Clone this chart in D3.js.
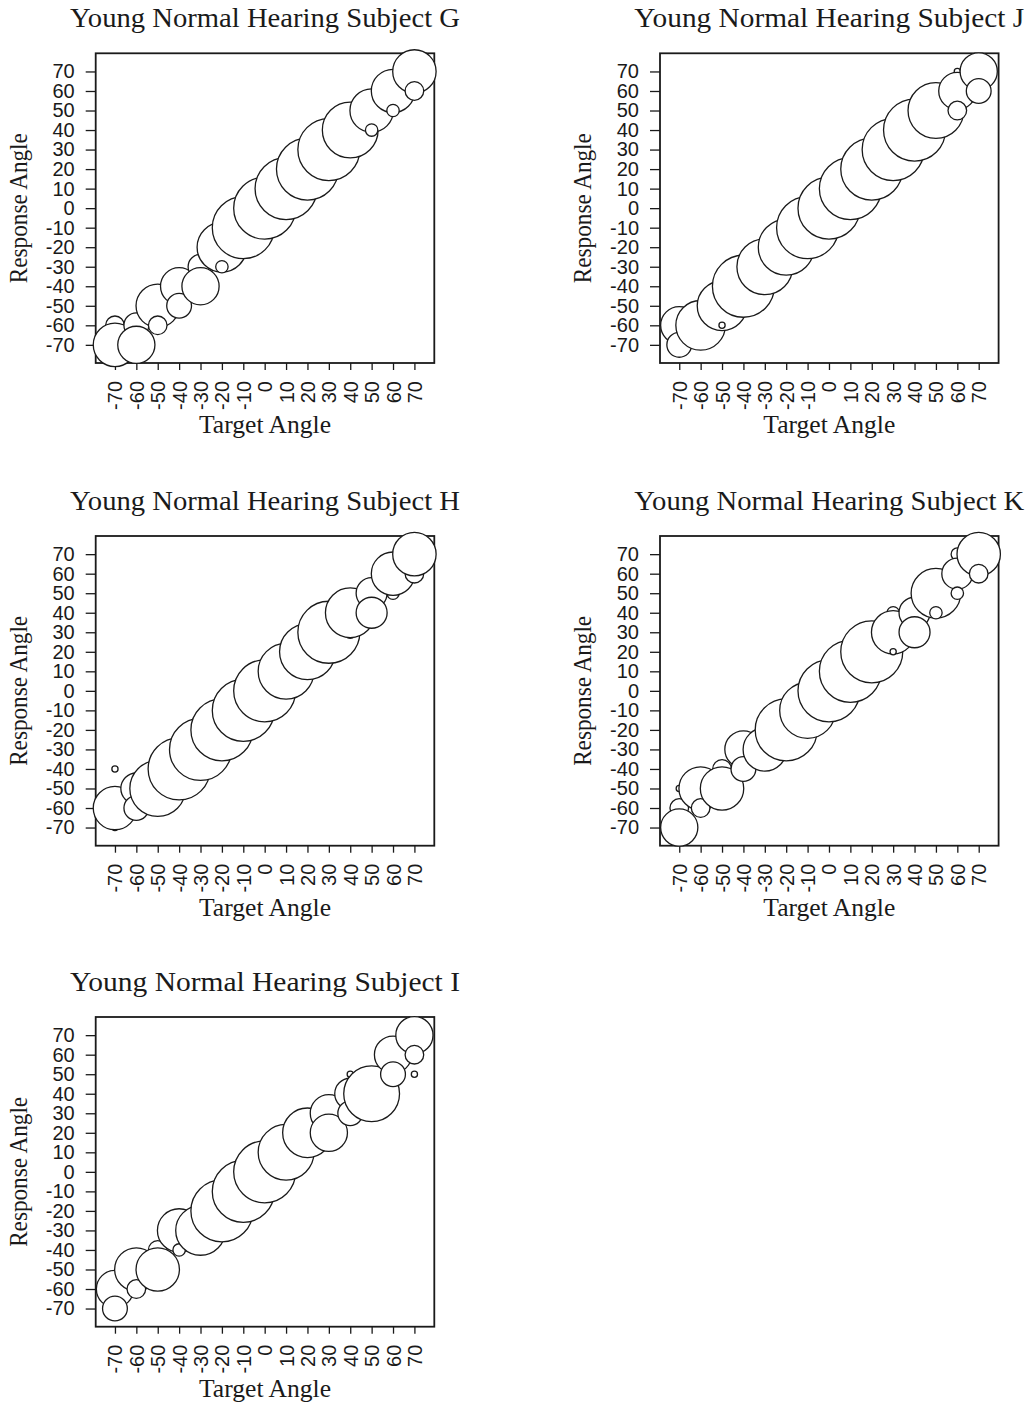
<!DOCTYPE html>
<html><head><meta charset="utf-8">
<script src="https://cdn.jsdelivr.net/npm/d3@7"></script>
<style>body{margin:0;background:#fff}svg{display:block}</style>
</head><body>
<svg id="chart" width="1030" height="1402"></svg>
<script>
// ---- data ----
const tickValues = [-70,-60,-50,-40,-30,-20,-10,0,10,20,30,40,50,60,70];
const panelIds = ["G","J","H","K","I"];
const panelTitles = ["Young Normal Hearing Subject G","Young Normal Hearing Subject J","Young Normal Hearing Subject H","Young Normal Hearing Subject K","Young Normal Hearing Subject I"];
const xAxisTitle = "Target Angle";
const yAxisTitle = "Response Angle";
// [target angle, response angle, number of responses] (listed in drawing order)
const subjectG = [
  [-70,-60,3],[-70,-70,7],
  [-60,-60,4],[-60,-70,6],
  [-50,-50,7],[-50,-60,3],
  [-40,-40,6],[-40,-50,4],
  [-30,-30,4],[-30,-40,6],
  [-20,-20,8],[-20,-30,2],
  [-10,-10,10],[0,0,10],[10,10,10],[20,20,10],[30,30,10],
  [40,40,9],
  [50,50,7],[50,40,2],
  [60,60,7],[60,50,2],
  [70,70,7],[70,60,3]
];
const subjectJ = [
  [-70,-60,6],[-70,-70,4],
  [-60,-60,8],
  [-50,-50,8],[-50,-60,1],
  [-40,-40,10],[-30,-30,9],[-20,-20,9],[-10,-10,10],[0,0,10],[10,10,10],[20,20,10],[30,30,10],[40,40,10],
  [50,50,9],
  [60,70,1],[60,60,6],[60,50,3],
  [70,70,6],[70,60,4]
];
const subjectH = [
  [-70,-40,1],[-70,-70,1],[-70,-60,7],
  [-60,-50,5],[-60,-60,4],
  [-50,-50,9],
  [-40,-40,10],[-30,-30,10],[-20,-20,10],[-10,-10,10],[0,0,10],
  [10,10,9],[20,20,9],[30,30,10],
  [40,30,2],[40,40,8],
  [50,50,5],[50,40,5],
  [60,50,2],[60,60,7],
  [70,60,3],[70,70,7]
];
const subjectK = [
  [-70,-50,1],[-70,-60,3],[-70,-70,6],
  [-60,-50,7],[-60,-60,3],
  [-50,-40,3],[-50,-50,7],
  [-40,-30,6],[-40,-40,4],
  [-30,-30,7],
  [-20,-20,10],[-10,-10,9],[0,0,10],[10,10,10],[20,20,10],
  [30,40,2],[30,30,7],[30,20,1],
  [40,40,5],[40,30,5],
  [50,50,8],[50,40,2],
  [60,70,2],[60,60,5],[60,50,2],
  [70,70,7],[70,60,3]
];
const subjectI = [
  [-70,-60,6],[-70,-70,4],
  [-60,-50,7],[-60,-60,3],
  [-50,-40,3],[-50,-50,7],
  [-40,-30,7],[-40,-40,2],
  [-30,-30,8],
  [-20,-20,10],[-10,-10,10],[0,0,10],
  [10,10,9],[20,20,8],
  [30,30,6],[30,20,6],
  [40,50,1],[40,40,5],[40,30,4],
  [50,40,9],
  [60,60,6],[60,50,4],
  [70,70,6],[70,60,3],[70,50,1]
];
const panelData = [subjectG, subjectJ, subjectH, subjectK, subjectI];

// ---- layout ----
const frames = [
  {left:95.7, top:53.3},
  {left:660,  top:53.3},
  {left:95.7, top:536},
  {left:660,  top:536},
  {left:95.7, top:1017}
];
const fw = 338.6, fh = 309.7;
const ink = "#1a1a1a";

const svg = d3.select("#chart");
svg.append("rect").attr("width",1030).attr("height",1402).attr("fill","#fff");

const rScale = d3.scaleLinear().domain([0,10]).range([0,31]);
const fmt = d => String(d);

panelIds.forEach((id, i) => {
  const f = frames[i];
  const x = d3.scaleLinear().domain([-79, 79.3]).range([f.left, f.left + fw]);
  const y = d3.scaleLinear().domain([-79.3, 79.3]).range([f.top + fh, f.top]);
  const g = svg.append("g").attr("class","panel-"+id);

  // frame
  g.append("rect").attr("x",f.left).attr("y",f.top).attr("width",fw).attr("height",fh)
    .attr("fill","none").attr("stroke",ink).attr("stroke-width",1.8);

  // y axis
  const ya = g.append("g").attr("transform",`translate(${f.left},0)`)
    .call(d3.axisLeft(y).tickValues(tickValues).tickSize(10).tickPadding(11).tickFormat(fmt));
  ya.select(".domain").remove();
  ya.selectAll("line").attr("stroke",ink).attr("stroke-width",1.3);
  ya.selectAll("text").attr("font-family","'Liberation Sans', Arial, sans-serif")
    .attr("font-size",20).attr("fill",ink);

  // x axis
  const xa = g.append("g").attr("transform",`translate(0,${f.top+fh})`)
    .call(d3.axisBottom(x).tickValues(tickValues).tickSize(7).tickFormat(fmt));
  xa.select(".domain").remove();
  xa.selectAll("line").attr("stroke",ink).attr("stroke-width",1.3);
  xa.selectAll("text")
    .attr("font-family","'Liberation Sans', Arial, sans-serif")
    .attr("font-size",20).attr("fill",ink)
    .attr("text-anchor","end")
    .attr("x",-18).attr("y",0).attr("dy","0.35em")
    .attr("transform","rotate(-90)");

  // bubbles
  g.append("g").selectAll("circle").data(panelData[i]).join("circle")
    .attr("cx", d => x(d[0]))
    .attr("cy", d => y(d[1]))
    .attr("r", d => rScale(d[2]))
    .attr("fill","#fff").attr("stroke",ink).attr("stroke-width",1.3);

  // titles
  const cx = f.left + fw/2;
  g.append("text").attr("x",cx).attr("y",f.top-26).attr("text-anchor","middle")
    .attr("font-family","'Liberation Serif','Times New Roman',serif").attr("font-size",27)
    .attr("fill",ink).attr("textLength",390).attr("lengthAdjust","spacingAndGlyphs")
    .text(panelTitles[i]);
  g.append("text").attr("x",cx).attr("y",f.top+380).attr("text-anchor","middle")
    .attr("font-family","'Liberation Serif','Times New Roman',serif").attr("font-size",25)
    .attr("fill",ink).attr("textLength",132).attr("lengthAdjust","spacingAndGlyphs")
    .text(xAxisTitle);
  g.append("text")
    .attr("transform",`translate(${f.left-69},${f.top+fh/2}) rotate(-90)`)
    .attr("text-anchor","middle")
    .attr("font-family","'Liberation Serif','Times New Roman',serif").attr("font-size",25)
    .attr("fill",ink).attr("textLength",150).attr("lengthAdjust","spacingAndGlyphs")
    .text(yAxisTitle);
});
</script>
</body></html>
